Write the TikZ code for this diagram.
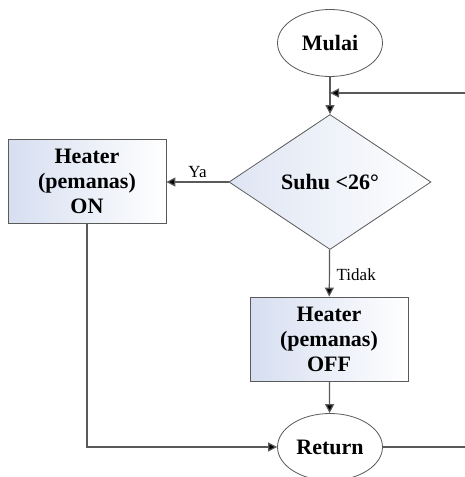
\documentclass[tikz,border=0pt]{standalone}
\usepackage{fontspec}
\setmainfont{Liberation Serif}
\usetikzlibrary{
	arrows.meta,
	shapes.geometric,
	positioning
}
\definecolor{LineGray}{RGB}{90,90,90}
\definecolor{BoxBlue}{RGB}{214,222,240}

\begin{document}
\begin{tikzpicture}[x=0.5pt, y=-0.5pt,
	terminal/.style={ellipse, draw=LineGray, fill=white, minimum width=52.5pt, minimum height=33.5pt, inner sep=0pt, font=\bfseries\fontsize{11}{12.5}\selectfont},
	proses/.style={rectangle, draw=LineGray, left color=BoxBlue, right color=white, minimum width=79pt, minimum height=42pt, inner sep=0pt, align=center, font=\bfseries\fontsize{11}{12.5}\selectfont},
	keputusan/.style={diamond, draw=LineGray, left color=BoxBlue!80, right color=white, minimum width=101pt, minimum height=67.5pt, inner sep=0pt, font=\bfseries\fontsize{11}{12.5}\selectfont},
	panah/.style={draw=LineGray, line width=0.6pt, -{Triangle[length=4.5pt, width=4.5pt, fill=black]}},
	garis/.style={draw=LineGray, line width=0.6pt},
	ket/.style={font=\fontsize{8.5}{10}\selectfont}
]
	\useasboundingbox (0,0) rectangle (465,477);
	% simpul
	\node[terminal] (mulai) at (330,43) {Mulai};
	\node[keputusan] (cek) at (330,182) {Suhu <26°};
	\node[proses] (on) at (87,181) {Heater\\(pemanas)\\ON};
	\node[proses] (off) at (329,339) {Heater\\(pemanas)\\OFF};
	\node[terminal] (ret) at (330,447) {Return};
	\coordinate (masuk) at (465,93);
	\coordinate (gabung) at (330,93);
	\coordinate (keluar) at (465,447);
	% alur
	\draw[panah] (mulai) -- (cek);
	\draw[panah] (masuk) -- (gabung);
	\draw[panah] (cek.west) -- (on.east |- cek.west) node[ket, midway, above, inner sep=2pt] {Ya};
	\draw[panah] (cek) -- (off) node[ket, midway, right, yshift=-1pt] {Tidak};
	\draw[panah] (off) -- (ret);
	\draw[panah] (on) |- (ret);
	\draw[garis] (ret) -- (keluar);
\end{tikzpicture}
\end{document}
